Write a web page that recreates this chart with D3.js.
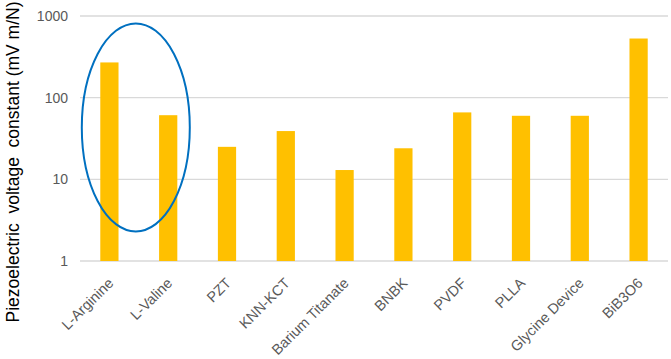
<!DOCTYPE html>
<html>
<head>
<meta charset="utf-8">
<script src="https://cdn.jsdelivr.net/npm/d3@7"></script>
<style>
    body { margin: 0; background: #fff; }
    svg { display: block; font-family: Arial, "Liberation Sans", sans-serif; }
</style>
</head>
<body>
<div id="chart"></div>
<script>
// chart data
const materials = ['L-Arginine', 'L-Valine', 'PZT', 'KNN-KCT', 'Barium Titanate',
    'BNBK', 'PVDF', 'PLLA', 'Glycine Device', 'BiB3O6'];
const voltageConstant = [270, 61, 25, 39, 13, 24, 66, 60, 60, 530];
const yTicks = [1, 10, 100, 1000];
const yTitle = 'Piezoelectric  voltage  constant (mV m/N)';
// highlighted group (first two materials), vertical extent in data units
const highlighted = ['L-Arginine', 'L-Valine'];
const highlightRange = [2.3, 810];

const W = 671, H = 359;
const margin = { top: 16, right: 3, bottom: 98, left: 80 };
const width = W - margin.left - margin.right;
const height = H - margin.top - margin.bottom;

const svg = d3.select('#chart').append('svg')
    .attr('width', W)
    .attr('height', H);

const g = svg.append('g')
    .attr('transform', `translate(${margin.left},${margin.top})`);

const x = d3.scaleBand().domain(materials).range([0, width]).paddingInner(0.69).paddingOuter(0.345);
const y = d3.scaleLog().domain([1, 1000]).range([height, 0]);

// gridlines
g.append('g')
    .selectAll('line')
    .data(yTicks)
    .join('line')
    .attr('x1', 0)
    .attr('x2', width)
    .attr('y1', d => y(d))
    .attr('y2', d => y(d))
    .style('stroke', '#d9d9d9')
    .style('stroke-width', 1.3);

// y axis labels
const yAxis = g.append('g')
    .call(d3.axisLeft(y).tickValues(yTicks).tickFormat(d3.format('d')).tickSize(0).tickPadding(12));
yAxis.select('.domain').remove();
yAxis.selectAll('text')
    .style('font-size', '14px')
    .style('fill', '#595959')
    .style('font-family', 'Arial, "Liberation Sans", sans-serif');

// bars
g.selectAll('.bar')
    .data(materials)
    .join('rect')
    .attr('class', 'bar')
    .attr('x', d => x(d))
    .attr('width', x.bandwidth())
    .attr('y', (d, i) => y(voltageConstant[i]))
    .attr('height', (d, i) => y(1) - y(voltageConstant[i]))
    .style('fill', '#ffc000');

// x axis labels
const xAxis = g.append('g')
    .attr('transform', `translate(0,${height})`)
    .call(d3.axisBottom(x).tickSize(0).tickPadding(0));
xAxis.select('.domain').remove();
xAxis.selectAll('text')
    .style('font-size', '14.5px')
    .style('fill', '#595959')
    .style('font-family', 'Arial, "Liberation Sans", sans-serif')
    .attr('text-anchor', 'end')
    .attr('dy', '0')
    .attr('transform', 'translate(5,23) rotate(-45)');

// y title
svg.append('text')
    .attr('transform', `translate(${19},${162}) rotate(-90)`)
    .attr('text-anchor', 'middle')
    .style('font-size', '17.5px')
    .style('fill', '#000')
    .style('white-space', 'pre')
    .text(yTitle);

// highlight ellipse around the amino acid crystals
const ellCx = (x(highlighted[0]) + x(highlighted[1]) + x.bandwidth()) / 2 - 3;
const ellTop = y(highlightRange[1]), ellBottom = y(highlightRange[0]);
g.append('ellipse')
    .attr('cx', ellCx)
    .attr('cy', (ellTop + ellBottom) / 2)
    .attr('rx', 54)
    .attr('ry', (ellBottom - ellTop) / 2)
    .style('fill', 'none')
    .style('stroke', '#0070c0')
    .style('stroke-width', 2);
</script>
</body>
</html>
